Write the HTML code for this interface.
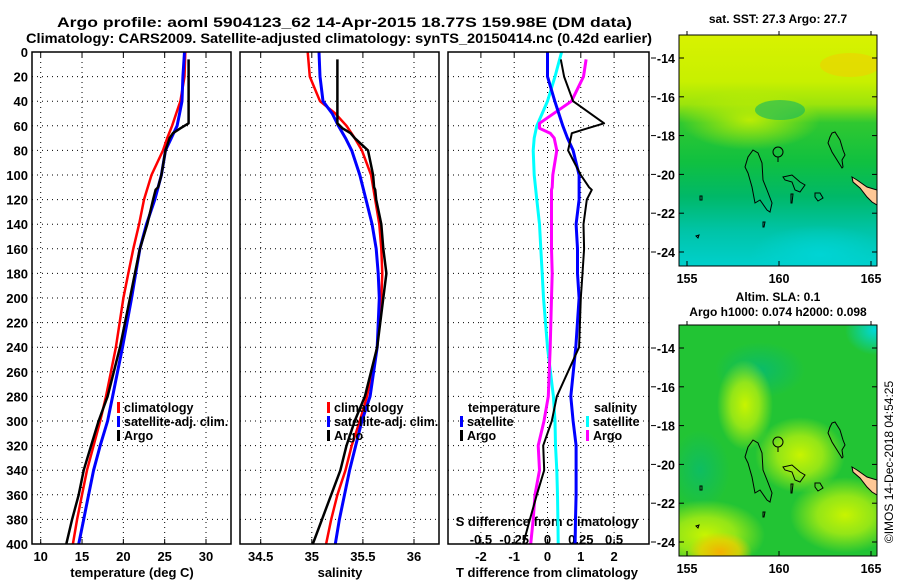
<!DOCTYPE html>
<html><head><meta charset="utf-8"><style>
html,body{margin:0;padding:0;background:#fff;}
svg{display:block;font-family:"Liberation Sans",Arial,sans-serif;font-weight:bold;}
</style></head><body>
<svg id="fig" width="900" height="580" viewBox="0 0 900 580" xmlns="http://www.w3.org/2000/svg">
<defs>
<linearGradient id="sstg" x1="0" y1="0" x2="0" y2="1">
<stop offset="0" stop-color="#d8f200"/><stop offset="0.2" stop-color="#c8f000"/>
<stop offset="0.3" stop-color="#9ce40c"/><stop offset="0.38" stop-color="#30c830"/>
<stop offset="0.55" stop-color="#10c040"/><stop offset="0.7" stop-color="#00b868"/>
<stop offset="0.85" stop-color="#00c4a8"/><stop offset="1" stop-color="#00d0cc"/>
</linearGradient>
<radialGradient id="sstY" cx="0.5" cy="0.5" r="0.5"><stop offset="0" stop-color="#c8f000" stop-opacity="0.9"/><stop offset="1" stop-color="#c8f000" stop-opacity="0"/></radialGradient>
<radialGradient id="sstC" cx="0.5" cy="0.5" r="0.5"><stop offset="0" stop-color="#00d4d4" stop-opacity="1"/><stop offset="1" stop-color="#00d4d4" stop-opacity="0"/></radialGradient>
<radialGradient id="slaY" cx="0.5" cy="0.5" r="0.5"><stop offset="0" stop-color="#c8f400" stop-opacity="1"/><stop offset="0.5" stop-color="#b0ee10" stop-opacity="0.8"/><stop offset="1" stop-color="#b0ee10" stop-opacity="0"/></radialGradient>
<radialGradient id="slaO" cx="0.5" cy="0.5" r="0.5"><stop offset="0" stop-color="#f4b000" stop-opacity="1"/><stop offset="0.6" stop-color="#e8d000" stop-opacity="0.8"/><stop offset="1" stop-color="#e8d000" stop-opacity="0"/></radialGradient>
<radialGradient id="slaT" cx="0.5" cy="0.5" r="0.5"><stop offset="0" stop-color="#00b880" stop-opacity="1"/><stop offset="1" stop-color="#00b880" stop-opacity="0"/></radialGradient>
<radialGradient id="slaC" cx="0.5" cy="0.5" r="0.5"><stop offset="0" stop-color="#00d8d8" stop-opacity="1"/><stop offset="1" stop-color="#00d8d8" stop-opacity="0"/></radialGradient>
<clipPath id="m1c"><rect x="679" y="35" width="198" height="231"/></clipPath>
<clipPath id="m2c"><rect x="679" y="325" width="198" height="231"/></clipPath>
</defs>

<text x="57" y="27" font-size="14" textLength="575" lengthAdjust="spacingAndGlyphs">Argo profile: aoml 5904123_62 14-Apr-2015 18.77S 159.98E (DM data)</text>
<text x="26" y="43" font-size="14" textLength="626" lengthAdjust="spacingAndGlyphs">Climatology: CARS2009. Satellite-adjusted climatology: synTS_20150414.nc (0.42d earlier)</text>

<g id="p1"></g>
<g id="p2"></g>
<g id="p3"></g>

<g>
<text x="778" y="23" font-size="12" text-anchor="middle">sat. SST: 27.3 Argo: 27.7</text>
<g clip-path="url(#m1c)">
<rect x="679" y="35" width="198" height="231" fill="url(#sstg)"/>
<ellipse cx="750" cy="120" rx="70" ry="30" fill="url(#sstY)"/>
<ellipse cx="820" cy="255" rx="70" ry="30" fill="url(#sstC)"/>
<ellipse cx="850" cy="65" rx="30" ry="12" fill="#f0d000" opacity="0.6"/>
<ellipse cx="780" cy="110" rx="25" ry="10" fill="#10b860" opacity="0.6"/>
</g>
<g id="m1isl"></g>
<rect x="679" y="35" width="198" height="231" fill="none" stroke="#000" stroke-width="1"/>
</g>
<g>
<text x="778" y="301" font-size="12" text-anchor="middle">Altim. SLA: 0.1</text>
<text x="778" y="316" font-size="12" text-anchor="middle">Argo h1000: 0.074 h2000: 0.098</text>
<g clip-path="url(#m2c)">
<rect x="679" y="325" width="198" height="231" fill="#22c434"/>
<ellipse cx="760" cy="370" rx="45" ry="28" fill="url(#slaT)" opacity="0.7"/>
<ellipse cx="700" cy="470" rx="30" ry="40" fill="url(#slaT)" opacity="0.6"/>
<ellipse cx="875" cy="330" rx="30" ry="25" fill="url(#slaC)"/>
<ellipse cx="745" cy="405" rx="28" ry="45" fill="url(#slaY)"/>
<ellipse cx="800" cy="455" rx="45" ry="38" fill="url(#slaY)"/>
<ellipse cx="845" cy="515" rx="55" ry="38" fill="url(#slaY)"/>
<ellipse cx="705" cy="535" rx="60" ry="35" fill="url(#slaY)"/>
<ellipse cx="720" cy="552" rx="32" ry="20" fill="url(#slaO)"/>
</g>
<g id="m2isl"></g>
<rect x="679" y="325" width="198" height="231" fill="none" stroke="#000" stroke-width="1"/>
</g>
<g id="mapaxes"></g>
<text transform="translate(893,462) rotate(-90)" font-size="12" font-weight="normal" text-anchor="middle">©IMOS 14-Dec-2018 04:54:25</text>
</svg>
<script>
const depthClim = [0,20,40,50,60,70,80,100,120,140,160,180,200,240,280,300,320,340,360,380,400];
const depthArgo = [6,20,40,58,62,66,70,80,100,110,112,120,140,160,180,200,240,280,300,320,340,360,380,400];
const tempClim = [27.5,27.4,26.9,26.4,25.9,25.3,24.8,23.4,22.5,21.9,21.2,20.6,20.0,19.1,17.9,17.2,16.4,15.6,15.0,14.4,13.9];
const tempSat = [27.4,27.2,27.1,26.8,26.5,25.8,25.1,24.6,23.8,22.8,22.0,21.5,21.0,19.9,18.7,18.1,17.2,16.4,15.8,15.2,14.6];
const tempArgo = [27.9,27.9,27.9,27.9,26.9,26.0,25.6,25.1,24.6,24.2,23.9,23.6,22.9,22.0,21.4,20.8,19.6,18.1,17.0,16.1,15.2,14.6,13.8,13.1];
const salClim = [34.96,34.98,35.08,35.23,35.34,35.42,35.49,35.58,35.62,35.66,35.68,35.69,35.68,35.64,35.54,35.47,35.39,35.33,35.25,35.19,35.14];
const salSat = [35.07,35.08,35.11,35.20,35.26,35.33,35.39,35.47,35.53,35.59,35.63,35.65,35.66,35.64,35.57,35.49,35.43,35.37,35.32,35.27,35.23];
const salArgo = [35.25,35.25,35.25,35.25,35.30,35.38,35.42,35.55,35.60,35.61,35.62,35.63,35.68,35.70,35.73,35.70,35.64,35.52,35.42,35.34,35.28,35.19,35.10,35.01];
const tDiffSat = [0.0,0.0,0.22,0.34,0.46,0.6,0.77,0.95,0.95,0.86,0.9,0.9,0.95,0.85,0.70,0.77,0.86,0.86,0.86,0.84,0.83];
const tDiffArgo = [0.4,0.5,0.77,1.7,1.2,0.73,0.7,0.62,1.0,1.25,1.33,1.18,1.08,1.1,1.05,1.0,0.95,0.28,0.13,-0.13,-0.1,-0.32,-0.53,-0.73];
const sDiffSat = [0.106,0.056,0.0,-0.04,-0.08,-0.1,-0.107,-0.1,-0.08,-0.06,-0.05,-0.04,-0.03,0.0,0.044,0.056,0.06,0.07,0.075,0.078,0.08];
const sDiffArgo = [0.29,0.27,0.18,-0.06,-0.06,0.02,0.05,0.07,0.04,0.035,0.03,0.03,0.03,0.03,0.035,0.03,0.02,0.006,-0.026,-0.07,-0.06,-0.094,-0.107,-0.126];
const depthTicks = [0,20,40,60,80,100,120,140,160,180,200,220,240,260,280,300,320,340,360,380,400];
const tempTicks = [10,15,20,25,30];
const salTicks = [34.5,35,35.5,36];
const tDiffTicks = [-2,-1,0,1,2];
const sDiffTicks = [-0.5,-0.25,0,0.25,0.5];
const sDiffTickLabels = ["-0.5","-0.25","0","0.25","0.5"];
const lonTicks = [155,160,165];
const latTicks = [-14,-16,-18,-20,-22,-24];

const NS = "http://www.w3.org/2000/svg";
const PY0 = 52, PY1 = 544;
const yD = d => PY0 + d * (PY1 - PY0) / 400;
const xT = t => 40.7 + (t - 10) * 8.265;
const xS = s => 260.7 + (s - 34.5) * 102.2;
const xTd = v => 547.5 + v * 33.3;
const xSd = v => 547.5 + v * 133.2;

function mk(parent, tag, attrs) {
  const e = document.createElementNS(NS, tag);
  for (const k in attrs) e.setAttribute(k, attrs[k]);
  parent.appendChild(e);
  return e;
}
function txt(parent, x, y, s, anchor, size) {
  const e = mk(parent, "text", {x: x, y: y, "font-size": size || 13, "text-anchor": anchor || "middle"});
  e.textContent = s;
  return e;
}
function line(parent, depths, vals, fx, color, w, name) {
  const pts = depths.map((d, i) => fx(vals[i]).toFixed(1) + "," + yD(d).toFixed(1)).join(" ");
  const e = mk(parent, "polyline", {points: pts, fill: "none", stroke: color, "stroke-width": w, "stroke-linejoin": "round"});
  
  
  return e;
}
function frame(parent, x0, x1, gridXs) {
  const g = mk(parent, "g", {});
  gridXs.forEach(x => mk(g, "line", {x1: x, x2: x, y1: PY0, y2: PY1, stroke: "#000", "stroke-width": 1, "stroke-dasharray": "1,4"}));
  depthTicks.forEach(d => { if (d > 0 && d < 400) mk(g, "line", {x1: x0, x2: x1, y1: yD(d), y2: yD(d), stroke: "#000", "stroke-width": 1, "stroke-dasharray": "1,4"}); });
  gridXs.forEach(x => { mk(g, "line", {x1: x, x2: x, y1: PY1, y2: PY1 - 5, stroke: "#000"}); mk(g, "line", {x1: x, x2: x, y1: PY0, y2: PY0 + 5, stroke: "#000"}); });
  return g;
}
function border(parent, x0, x1) {
  mk(parent, "rect", {x: x0, y: PY0, width: x1 - x0, height: PY1 - PY0, fill: "none", stroke: "#000", "stroke-width": 1.5});
}
function legend(parent, x, y, color, label, name) {
  const b = mk(parent, "rect", {x: x, y: y - 10, width: 3, height: 11, fill: color});
  
  
  const t = txt(parent, x + 7, y, label, "start", 12.5);
  
  
}

const p1 = document.getElementById("p1");
frame(p1, 32, 231, tempTicks.map(xT));
depthTicks.forEach(d => {
  const t = txt(p1, 28, yD(d) + 5, String(d), "end");
  
  
});
tempTicks.forEach(v => {
  const t = txt(p1, xT(v), 561, String(v));
  
  
});
const p1t = txt(p1, 132, 577, "temperature (deg C)");


line(p1, depthClim, tempClim, xT, "#ff0000", 2.5, "temp-climatology-line");
line(p1, depthClim, tempSat, xT, "#0000ff", 3, "temp-satellite-line");
line(p1, depthArgo, tempArgo, xT, "#000000", 2.5, "temp-argo-line");
legend(p1, 117, 412, "#ff0000", "climatology", "legend-climatology");
legend(p1, 117, 426, "#0000ff", "satellite-adj. clim.", "legend-satellite");
legend(p1, 117, 440, "#000000", "Argo", "legend-argo");
border(p1, 32, 231);

const p2 = document.getElementById("p2");
frame(p2, 240, 439, salTicks.map(xS));
salTicks.forEach(v => {
  const t = txt(p2, xS(v), 561, String(v));
  
  
});
const p2t = txt(p2, 340, 577, "salinity");


line(p2, depthClim, salClim, xS, "#ff0000", 2.5, "sal-climatology-line");
line(p2, depthClim, salSat, xS, "#0000ff", 3, "sal-satellite-line");
line(p2, depthArgo, salArgo, xS, "#000000", 2.5, "sal-argo-line");
legend(p2, 327, 412, "#ff0000", "climatology", "legend-climatology");
legend(p2, 327, 426, "#0000ff", "satellite-adj. clim.", "legend-satellite");
legend(p2, 327, 440, "#000000", "Argo", "legend-argo");
border(p2, 240, 439);

const p3 = document.getElementById("p3");
frame(p3, 448, 649, tDiffTicks.map(xTd));
tDiffTicks.forEach(v => {
  const t = txt(p3, xTd(v), 561, String(v));
  
  
});
sDiffTicks.forEach((v, i) => {
  const t = txt(p3, xSd(v), 544, sDiffTickLabels[i]);
  
  
});
const p3t = txt(p3, 547, 577, "T difference from climatology");


const p3s = txt(p3, 547, 526, "S difference from climatology");


line(p3, depthClim, sDiffSat, xSd, "#00ffff", 3, "s-diff-satellite-line");
line(p3, depthArgo, sDiffArgo, xSd, "#ff00ff", 3, "s-diff-argo-line");
line(p3, depthClim, tDiffSat, xTd, "#0000ff", 3, "t-diff-satellite-line");
line(p3, depthArgo, tDiffArgo, xTd, "#000000", 2, "t-diff-argo-line");
const lt = txt(p3, 468, 412, "temperature", "start", 12.5);


legend(p3, 460, 426, "#0000ff", "satellite", "legend-t-satellite");
legend(p3, 460, 440, "#000000", "Argo", "legend-t-argo");
const ls = txt(p3, 594, 412, "salinity", "start", 12.5);


legend(p3, 586, 426, "#00ffff", "satellite", "legend-s-satellite");
legend(p3, 586, 440, "#ff00ff", "Argo", "legend-s-argo");
border(p3, 448, 649);

const lonX = lon => 687 + (lon - 155) * 18.4;
const latY = (lat, off) => off + 58 + (-14 - lat) * 19.4;
const ax = document.getElementById("mapaxes");
[0, 290].forEach(off => {
  latTicks.forEach(l => {
    mk(ax, "line", {x1: 651, x2: 656, y1: latY(l, off), y2: latY(l, off), stroke: "#000"});
    mk(ax, "line", {x1: 679, x2: 684, y1: latY(l, off), y2: latY(l, off), stroke: "#000"});
    mk(ax, "line", {x1: 872, x2: 877, y1: latY(l, off), y2: latY(l, off), stroke: "#000"});
    const t = txt(ax, 675, latY(l, off) + 5, String(l), "end", 12.5);
    
    
  });
  lonTicks.forEach(l => {
    mk(ax, "line", {x1: lonX(l), x2: lonX(l), y1: off + 266, y2: off + 261, stroke: "#000"});
    mk(ax, "line", {x1: lonX(l), x2: lonX(l), y1: off + 35, y2: off + 31, stroke: "#000"});
    const t = txt(ax, lonX(l), off + 283, String(l), "middle", 12.5);
    
    
  });
});
const islands = [
  "753,150 758,153 762,163 763,180 767,190 772,203 770,212 767,210 760,200 755,203 752,187 748,173 745,167 748,157",
  "783,177 792,175 800,182 805,185 800,192 795,190 792,182 785,180",
  "815,193 820,193 823,198 818,201 815,197",
  "832,133 835,132 840,140 843,150 845,155 842,160 843,167 842,168 837,160 832,152 828,143 830,137",
  "700,196 702,196 702,200 700,200", "696,236 699,235 698,238", "763,222 765,222 764,227 763,227", "791,194 793,194 792,203 791,203"
];
[["m1isl", 0], ["m2isl", 290]].forEach(([id, off]) => {
  const g = document.getElementById(id);
  const nc = mk(g, "polygon", {points: "852,177 857,180 867,187 877,190 877,205 872,202 867,197 860,188 853,182", fill: "#ffc896", stroke: "#000", "stroke-width": 1, transform: "translate(0," + off + ")"});
  
  
  islands.forEach(p => {
    const e = mk(g, "polygon", {points: p, fill: "none", stroke: "#000", "stroke-width": 1, transform: "translate(0," + off + ")"});
    
    
  });
  const c = mk(g, "circle", {cx: 778, cy: 152 + off, r: 5, fill: "none", stroke: "#000", "stroke-width": 1});
  
  
  mk(g, "line", {x1: 778, x2: 778, y1: 157 + off, y2: 162 + off, stroke: "#000"});
});
</script>
</body></html>
